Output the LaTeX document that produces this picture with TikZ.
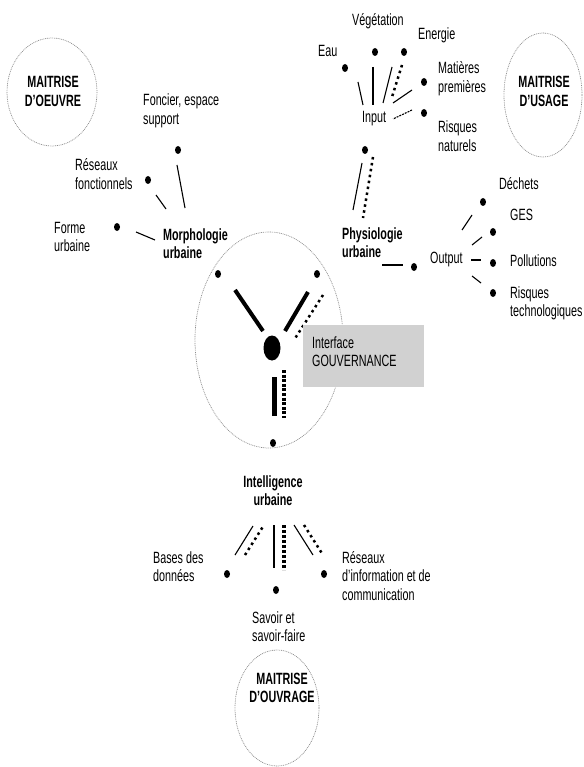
\documentclass[tikz,border=0pt]{standalone}
\usepackage{fontspec}
\setmainfont{Liberation Sans}[FakeStretch=0.66]
\usetikzlibrary{shapes.geometric}
\begin{document}
% Multi-line labels are placed by the baseline of their last line.
\begin{tikzpicture}[x=1pt,y=-1pt,
  lbl/.style={font=\fontsize{16.3}{18.5}\selectfont, inner sep=0pt, anchor=base west, align=left},
  blbl/.style={lbl, font=\fontsize{16.3}{18.5}\selectfont\bfseries},
  clbl/.style={blbl, anchor=base, align=center},
  pt/.style={fill=black, draw=none, ellipse, inner sep=0pt, minimum width=6pt, minimum height=8pt},
  link/.style={draw=black, line width=1.1pt},
  heavy/.style={draw=black, line width=4pt},
  dotline/.style={draw=black, line width=2.5pt, dash pattern=on 2.5pt off 3.5pt},
  sqline/.style={draw=black, line width=4.5pt, dash pattern=on 3pt off 1.6pt},
  ring/.style={draw=black!45, line width=0.7pt, dash pattern=on 0.9pt off 0.9pt}]
\useasboundingbox (0,0) rectangle (583,767);

% ---- actor rings ----
\draw[ring] (52,92) ellipse [x radius=45, y radius=54];
\node[clbl] (moe) at (53,106.5) {MAITRISE\\D'OEUVRE};
\draw[ring] (543,95) ellipse [x radius=39, y radius=62];
\node[clbl] (mus) at (544,106.5) {MAITRISE\\D'USAGE};
\draw[ring] (277,708) ellipse [x radius=42, y radius=58];
\node[clbl] (mou) at (282,702.5) {MAITRISE\\D'OUVRAGE};

% ---- central ring and governance interface ----
\draw[ring] (269,340) ellipse [x radius=74, y radius=108];
\node[pt, minimum width=17pt, minimum height=25pt] (core) at (272,348) {};
\node[pt] (cUL) at (218,274) {};
\node[pt] (cUR) at (317,274) {};
\node[pt] (cB) at (273,443) {};
\coordinate (h1a) at (235,290); \coordinate (h1b) at (263,331);
\coordinate (h2a) at (308,292); \coordinate (h2b) at (285,331);
\coordinate (h3a) at (323,295); \coordinate (h3b) at (294,340);
\coordinate (v1a) at (274,377); \coordinate (v1b) at (274,416);
\coordinate (v2a) at (284,370); \coordinate (v2b) at (284,418);
\draw[heavy] (h1a) -- (h1b);
\draw[heavy] (h2a) -- (h2b);
\draw[dotline] (h3a) -- (h3b);
\draw[draw=black, line width=5pt] (v1a) -- (v1b);
\draw[sqline] (v2a) -- (v2b);
\fill[black!18] (303,325) rectangle (424,387);
\node[lbl] (gouv) at (312,366.5) {Interface\\GOUVERNANCE};

% ---- morphologie urbaine ----
\node[blbl] (morpho) at (163,258.5) {Morphologie\\urbaine};
\node[lbl] (fonc) at (143,124.5) {Foncier, espace\\support};
\node[lbl] (resf) at (75,189.5) {Réseaux\\fonctionnels};
\node[lbl] (forme) at (54,251.5) {Forme\\urbaine};
\node[pt] (dfonc) at (178,150) {};
\node[pt] (dresf) at (148,180) {};
\node[pt] (dforme) at (117,227) {};
\coordinate (m1a) at (177,165); \coordinate (m1b) at (185,208);
\coordinate (m2a) at (156,195); \coordinate (m2b) at (166,209);
\coordinate (m3a) at (136,232); \coordinate (m3b) at (155,240);
\draw[link] (m1a) -- (m1b);
\draw[link] (m2a) -- (m2b);
\draw[link] (m3a) -- (m3b);

% ---- physiologie urbaine: input ----
\node[blbl] (physio) at (342,257.5) {Physiologie\\urbaine};
\node[lbl] (input) at (362,123) {Input};
\node[lbl] (eau) at (318,57) {Eau};
\node[lbl] (veg) at (352,26) {Végétation};
\node[lbl] (ener) at (418,40) {Energie};
\node[lbl] (mat) at (438,92.5) {Matières\\premières};
\node[lbl] (rnat) at (438,151.5) {Risques\\naturels};
\node[pt] (deau) at (345,68) {};
\node[pt] (dveg) at (375,52) {};
\node[pt] (dener) at (404,52) {};
\node[pt] (dmat) at (424,82) {};
\node[pt] (drnat) at (424,113) {};
\node[pt] (dphys) at (365,150) {};
\coordinate (i1a) at (358,82); \coordinate (i1b) at (363,105);
\coordinate (i2a) at (373,67); \coordinate (i2b) at (373,105);
\coordinate (i3a) at (392,67); \coordinate (i3b) at (383,103);
\coordinate (i4a) at (402,65); \coordinate (i4b) at (392,97);
\coordinate (i5a) at (412,90); \coordinate (i5b) at (393,103);
\coordinate (i6a) at (412,110); \coordinate (i6b) at (393,119);
\draw[link] (i1a) -- (i1b);
\draw[link] (i2a) -- (i2b);
\draw[link] (i3a) -- (i3b);
\draw[dotline] (i4a) -- (i4b);
\draw[link] (i5a) -- (i5b);
\draw[link, dash pattern=on 2pt off 1pt] (i6a) -- (i6b);
\coordinate (p1a) at (362,163); \coordinate (p1b) at (353,210);
\coordinate (p2a) at (373,157); \coordinate (p2b) at (363,218);
\draw[link] (p1a) -- (p1b);
\draw[dotline] (p2a) -- (p2b);

% ---- physiologie urbaine: output ----
\coordinate (o0a) at (382,265); \coordinate (o0b) at (403,265);
\draw[link] (o0a) -- (o0b);
\node[pt] (dout) at (414,267) {};
\node[lbl] (output) at (430,263) {Output};
\node[lbl] (dech) at (499,190) {Déchets};
\node[lbl] (ges) at (510,221) {GES};
\node[lbl] (poll) at (510,266) {Pollutions};
\node[lbl] (rtec) at (510,316.5) {Risques\\technologiques};
\node[pt] (ddech) at (483,202) {};
\node[pt] (dges) at (493,232) {};
\node[pt] (dpoll) at (493,263) {};
\node[pt] (drtec) at (493,293) {};
\coordinate (o1a) at (462,230); \coordinate (o1b) at (472,215);
\coordinate (o2a) at (472,245); \coordinate (o2b) at (482,237);
\coordinate (o3a) at (471,260); \coordinate (o3b) at (481,260);
\coordinate (o4a) at (472,276); \coordinate (o4b) at (481,283);
\draw[link] (o1a) -- (o1b);
\draw[link] (o2a) -- (o2b);
\draw[link] (o3a) -- (o3b);
\draw[link] (o4a) -- (o4b);

% ---- intelligence urbaine ----
\node[clbl] (intel) at (273,505.5) {Intelligence\\urbaine};
\coordinate (n1a) at (235,555); \coordinate (n1b) at (253,526);
\coordinate (n2a) at (245,555); \coordinate (n2b) at (264,525);
\coordinate (n3a) at (274,525); \coordinate (n3b) at (274,568);
\coordinate (n4a) at (284,525); \coordinate (n4b) at (284,570);
\coordinate (n5a) at (294,525); \coordinate (n5b) at (313,555);
\coordinate (n6a) at (304,525); \coordinate (n6b) at (323,555);
\draw[link] (n1a) -- (n1b);
\draw[dotline] (n2a) -- (n2b);
\draw[link] (n3a) -- (n3b);
\draw[sqline, line width=4pt, dash pattern=on 3pt off 2pt] (n4a) -- (n4b);
\draw[link] (n5a) -- (n5b);
\draw[dotline] (n6a) -- (n6b);
\node[pt] (dbase) at (227,574) {};
\node[pt] (dsav) at (276,590) {};
\node[pt] (dres) at (324,574) {};
\node[lbl] (bases) at (153,581.5) {Bases des\\données};
\node[lbl] (resi) at (342,600) {Réseaux\\d'information et de\\communication};
\node[lbl] (sav) at (252,641.5) {Savoir et\\savoir-faire};
\end{tikzpicture}
\end{document}
